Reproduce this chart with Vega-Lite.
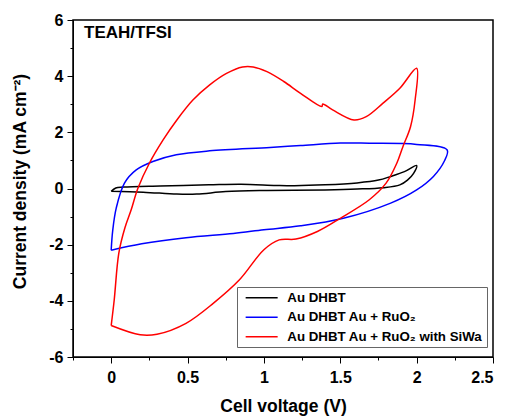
{
  "$schema": "https://vega.github.io/schema/vega-lite/v6.json",
  "width": 420,
  "height": 337,
  "autosize": {"type": "none"},
  "padding": {"left": 73, "top": 20, "right": 13, "bottom": 60},
  "background": "white",
  "title": {"text": "TEAH/TFSI", "anchor": "start", "frame": "group", "orient": "top", "offset": -43, "dx": 11,
    "baseline": "alphabetic", "font": "Liberation Sans", "fontSize": 17, "fontWeight": "bold", "color": "black"},
  "config": {
    "font": "Liberation Sans",
    "view": {"stroke": "black", "strokeWidth": 1.5},
    "axis": {"grid": false, "domainColor": "black", "tickColor": "black",
      "labelFont": "Liberation Sans", "labelFontWeight": "bold", "labelFontSize": 16, "labelColor": "black",
      "titleFont": "Liberation Sans", "titleFontWeight": "bold", "titleFontSize": 17.5, "titleColor": "black"}
  },
  "data": {"values": [
      {"series": "Au DHBT", "i": 1, "v": 0.0, "j": -0.1},
      {"series": "Au DHBT", "i": 2, "v": 0.03, "j": 0.02},
      {"series": "Au DHBT", "i": 3, "v": 0.08, "j": 0.05},
      {"series": "Au DHBT", "i": 4, "v": 0.32, "j": 0.09},
      {"series": "Au DHBT", "i": 5, "v": 0.64, "j": 0.13},
      {"series": "Au DHBT", "i": 6, "v": 0.85, "j": 0.15},
      {"series": "Au DHBT", "i": 7, "v": 1.08, "j": 0.11},
      {"series": "Au DHBT", "i": 8, "v": 1.2, "j": 0.1},
      {"series": "Au DHBT", "i": 9, "v": 1.4, "j": 0.13},
      {"series": "Au DHBT", "i": 10, "v": 1.61, "j": 0.2},
      {"series": "Au DHBT", "i": 11, "v": 1.75, "j": 0.3},
      {"series": "Au DHBT", "i": 12, "v": 1.83, "j": 0.43},
      {"series": "Au DHBT", "i": 13, "v": 1.92, "j": 0.6},
      {"series": "Au DHBT", "i": 14, "v": 2.0, "j": 0.82},
      {"series": "Au DHBT", "i": 15, "v": 1.98, "j": 0.54},
      {"series": "Au DHBT", "i": 16, "v": 1.94, "j": 0.3},
      {"series": "Au DHBT", "i": 17, "v": 1.89, "j": 0.13},
      {"series": "Au DHBT", "i": 18, "v": 1.78, "j": 0.03},
      {"series": "Au DHBT", "i": 19, "v": 1.61, "j": -0.02},
      {"series": "Au DHBT", "i": 20, "v": 1.4, "j": -0.05},
      {"series": "Au DHBT", "i": 21, "v": 1.02, "j": -0.07},
      {"series": "Au DHBT", "i": 22, "v": 0.75, "j": -0.11},
      {"series": "Au DHBT", "i": 23, "v": 0.56, "j": -0.2},
      {"series": "Au DHBT", "i": 24, "v": 0.43, "j": -0.2},
      {"series": "Au DHBT", "i": 25, "v": 0.21, "j": -0.13},
      {"series": "Au DHBT", "i": 26, "v": 0.0, "j": -0.1},

      {"series": "Au DHBT Au + RuO₂", "i": 1, "v": 0.0, "j": -2.2},
      {"series": "Au DHBT Au + RuO₂", "i": 2, "v": 0.01, "j": -1.5},
      {"series": "Au DHBT Au + RuO₂", "i": 3, "v": 0.033, "j": -0.7},
      {"series": "Au DHBT Au + RuO₂", "i": 4, "v": 0.087, "j": 0.19},
      {"series": "Au DHBT Au + RuO₂", "i": 5, "v": 0.164, "j": 0.66},
      {"series": "Au DHBT Au + RuO₂", "i": 6, "v": 0.273, "j": 0.96},
      {"series": "Au DHBT Au + RuO₂", "i": 7, "v": 0.426, "j": 1.2},
      {"series": "Au DHBT Au + RuO₂", "i": 8, "v": 0.645, "j": 1.34},
      {"series": "Au DHBT Au + RuO₂", "i": 9, "v": 1.04, "j": 1.46},
      {"series": "Au DHBT Au + RuO₂", "i": 10, "v": 1.24, "j": 1.53},
      {"series": "Au DHBT Au + RuO₂", "i": 11, "v": 1.5, "j": 1.62},
      {"series": "Au DHBT Au + RuO₂", "i": 12, "v": 1.69, "j": 1.61},
      {"series": "Au DHBT Au + RuO₂", "i": 13, "v": 2.0, "j": 1.57},
      {"series": "Au DHBT Au + RuO₂", "i": 14, "v": 2.2, "j": 1.37},
      {"series": "Au DHBT Au + RuO₂", "i": 15, "v": 2.18, "j": 0.96},
      {"series": "Au DHBT Au + RuO₂", "i": 16, "v": 2.11, "j": 0.43},
      {"series": "Au DHBT Au + RuO₂", "i": 17, "v": 2.0, "j": -0.05},
      {"series": "Au DHBT Au + RuO₂", "i": 18, "v": 1.83, "j": -0.52},
      {"series": "Au DHBT Au + RuO₂", "i": 19, "v": 1.52, "j": -1.06},
      {"series": "Au DHBT Au + RuO₂", "i": 20, "v": 1.24, "j": -1.33},
      {"series": "Au DHBT Au + RuO₂", "i": 21, "v": 1.0, "j": -1.47},
      {"series": "Au DHBT Au + RuO₂", "i": 22, "v": 0.8, "j": -1.6},
      {"series": "Au DHBT Au + RuO₂", "i": 23, "v": 0.49, "j": -1.75},
      {"series": "Au DHBT Au + RuO₂", "i": 24, "v": 0.2, "j": -1.97},
      {"series": "Au DHBT Au + RuO₂", "i": 25, "v": 0.0, "j": -2.2},

      {"series": "Au DHBT Au + RuO₂ with SiWa", "i": 1, "v": 0.0, "j": -4.88},
      {"series": "Au DHBT Au + RuO₂ with SiWa", "i": 2, "v": 0.02, "j": -3.96},
      {"series": "Au DHBT Au + RuO₂ with SiWa", "i": 3, "v": 0.05, "j": -2.3},
      {"series": "Au DHBT Au + RuO₂ with SiWa", "i": 4, "v": 0.09, "j": -1.4},
      {"series": "Au DHBT Au + RuO₂ with SiWa", "i": 5, "v": 0.131, "j": -0.76},
      {"series": "Au DHBT Au + RuO₂ with SiWa", "i": 6, "v": 0.175, "j": 0.01},
      {"series": "Au DHBT Au + RuO₂ with SiWa", "i": 7, "v": 0.25, "j": 0.9},
      {"series": "Au DHBT Au + RuO₂ with SiWa", "i": 8, "v": 0.34, "j": 1.73},
      {"series": "Au DHBT Au + RuO₂ with SiWa", "i": 9, "v": 0.43, "j": 2.44},
      {"series": "Au DHBT Au + RuO₂ with SiWa", "i": 10, "v": 0.535, "j": 3.15},
      {"series": "Au DHBT Au + RuO₂ with SiWa", "i": 11, "v": 0.645, "j": 3.69},
      {"series": "Au DHBT Au + RuO₂ with SiWa", "i": 12, "v": 0.755, "j": 4.1},
      {"series": "Au DHBT Au + RuO₂ with SiWa", "i": 13, "v": 0.86, "j": 4.33},
      {"series": "Au DHBT Au + RuO₂ with SiWa", "i": 14, "v": 0.93, "j": 4.33},
      {"series": "Au DHBT Au + RuO₂ with SiWa", "i": 15, "v": 1.02, "j": 4.16},
      {"series": "Au DHBT Au + RuO₂ with SiWa", "i": 16, "v": 1.13, "j": 3.81},
      {"series": "Au DHBT Au + RuO₂ with SiWa", "i": 17, "v": 1.24, "j": 3.39},
      {"series": "Au DHBT Au + RuO₂ with SiWa", "i": 18, "v": 1.38, "j": 2.92},
      {"series": "Au DHBT Au + RuO₂ with SiWa", "i": 19, "v": 1.385, "j": 3.01},
      {"series": "Au DHBT Au + RuO₂ with SiWa", "i": 20, "v": 1.45, "j": 2.8},
      {"series": "Au DHBT Au + RuO₂ with SiWa", "i": 21, "v": 1.59, "j": 2.44},
      {"series": "Au DHBT Au + RuO₂ with SiWa", "i": 22, "v": 1.67, "j": 2.56},
      {"series": "Au DHBT Au + RuO₂ with SiWa", "i": 23, "v": 1.78, "j": 3.04},
      {"series": "Au DHBT Au + RuO₂ with SiWa", "i": 24, "v": 1.89, "j": 3.57},
      {"series": "Au DHBT Au + RuO₂ with SiWa", "i": 25, "v": 2.0, "j": 4.28},
      {"series": "Au DHBT Au + RuO₂ with SiWa", "i": 26, "v": 1.99, "j": 3.15},
      {"series": "Au DHBT Au + RuO₂ with SiWa", "i": 27, "v": 1.96, "j": 2.2},
      {"series": "Au DHBT Au + RuO₂ with SiWa", "i": 28, "v": 1.91, "j": 1.49},
      {"series": "Au DHBT Au + RuO₂ with SiWa", "i": 29, "v": 1.87, "j": 0.9},
      {"series": "Au DHBT Au + RuO₂ with SiWa", "i": 30, "v": 1.8, "j": 0.19},
      {"series": "Au DHBT Au + RuO₂ with SiWa", "i": 31, "v": 1.69, "j": -0.4},
      {"series": "Au DHBT Au + RuO₂ with SiWa", "i": 32, "v": 1.5, "j": -1.06},
      {"series": "Au DHBT Au + RuO₂ with SiWa", "i": 33, "v": 1.35, "j": -1.53},
      {"series": "Au DHBT Au + RuO₂ with SiWa", "i": 34, "v": 1.21, "j": -1.8},
      {"series": "Au DHBT Au + RuO₂ with SiWa", "i": 35, "v": 1.1, "j": -1.83},
      {"series": "Au DHBT Au + RuO₂ with SiWa", "i": 36, "v": 1.0, "j": -2.18},
      {"series": "Au DHBT Au + RuO₂ with SiWa", "i": 37, "v": 0.84, "j": -3.25},
      {"series": "Au DHBT Au + RuO₂ with SiWa", "i": 38, "v": 0.67, "j": -4.08},
      {"series": "Au DHBT Au + RuO₂ with SiWa", "i": 39, "v": 0.49, "j": -4.8},
      {"series": "Au DHBT Au + RuO₂ with SiWa", "i": 40, "v": 0.3, "j": -5.19},
      {"series": "Au DHBT Au + RuO₂ with SiWa", "i": 41, "v": 0.19, "j": -5.21},
      {"series": "Au DHBT Au + RuO₂ with SiWa", "i": 42, "v": 0.0, "j": -4.88}
  ]},
  "mark": {"type": "line", "strokeWidth": 1.5, "interpolate": "catmull-rom"},
  "encoding": {
    "x": {"field": "v", "type": "quantitative", "scale": {"domain": [-0.25, 2.5], "nice": false, "zero": false},
      "axis": {"title": "Cell voltage (V)", "values": [-0.25, 0, 0.25, 0.5, 0.75, 1, 1.25, 1.5, 1.75, 2, 2.25, 2.5],
        "format": "~g",
        "labelExpr": "datum.value % 0.5 === 0 ? datum.label : ''",
        "tickDash": {"condition": {"test": "datum.value % 0.5 === 0", "value": []}, "value": [3, 10]},
        "tickSize": 6, "labelPadding": 6, "titlePadding": 12}},
    "y": {"field": "j", "type": "quantitative", "scale": {"domain": [-6, 6], "nice": false, "zero": false},
      "axis": {"title": "Current density (mA cm⁻²)", "values": [-6, -5, -4, -3, -2, -1, 0, 1, 2, 3, 4, 5, 6],
        "labelExpr": "datum.value % 2 === 0 ? replace(datum.label, '−', '-') : ''",
        "tickDash": {"condition": {"test": "datum.value % 2 === 0", "value": []}, "value": [3, 10]},
        "tickSize": 6, "labelPadding": 4, "titlePadding": 19, "titleY": 161}},
    "order": {"field": "i", "type": "quantitative"},
    "color": {"field": "series", "type": "nominal",
      "scale": {"domain": ["Au DHBT", "Au DHBT Au + RuO₂", "Au DHBT Au + RuO₂ with SiWa"], "range": ["#000000", "#0000ff", "#ff0000"]},
      "legend": {"title": null, "orient": "none", "legendX": 164, "legendY": 267,
        "strokeColor": "#666666", "fillColor": "white", "padding": 4,
        "symbolType": "M-1,0H15", "symbolSize": 16, "symbolStrokeWidth": 1.5,
        "labelOffset": 33, "labelFont": "Liberation Sans", "labelFontWeight": "bold", "labelFontSize": 13.3,
        "labelColor": "black", "rowPadding": 5.5, "labelLimit": 400}}
  }
}
